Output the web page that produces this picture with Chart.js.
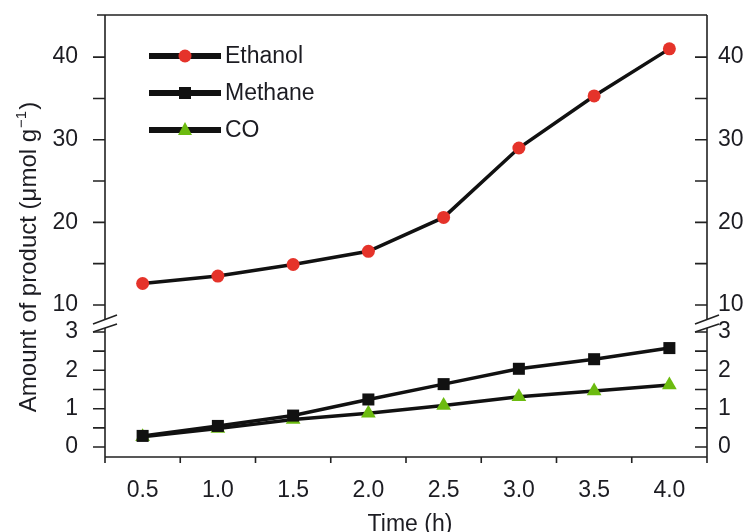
<!DOCTYPE html>
<html>
<head>
<meta charset="utf-8">
<script src="https://cdn.jsdelivr.net/npm/chart.js@4.4.1/dist/chart.umd.min.js"></script>
<style>
html, body { margin: 0; padding: 0; background: #fff; }
#wrap { width: 747px; height: 532px; }
</style>
</head>
<body>
<div id="wrap"><canvas id="chart"></canvas></div>
<script>
var times = [0.5, 1.0, 1.5, 2.0, 2.5, 3.0, 3.5, 4.0];
var ethanol = [12.6, 13.5, 14.9, 16.5, 20.6, 29.0, 35.3, 41.0];
var methane = [0.29, 0.55, 0.82, 1.24, 1.64, 2.04, 2.29, 2.58];
var co = [0.27, 0.48, 0.72, 0.88, 1.08, 1.31, 1.46, 1.62];
var seriesNames = ["Ethanol", "Methane", "CO"];

var xLabelTicks = [0.5, 1.0, 1.5, 2.0, 2.5, 3.0, 3.5, 4.0];
var xMarkTicks = [0.25, 0.75, 1.25, 1.75, 2.25, 2.75, 3.25, 3.75, 4.25];
var upperTicks = [10, 15, 20, 25, 30, 35, 40];
var upperLabels = [10, 20, 30, 40];
var lowerTicks = [0, 0.5, 1, 1.5, 2, 2.5, 3];
var lowerLabels = [0, 1, 2, 3];

var FONT = "'Liberation Sans', Arial, sans-serif";
var TEXT = "#1c1c22";
var INK = "#222";

function pairs(ys) {
	var out = [];
	for (var i = 0; i < times.length; i++) out.push({ x: times[i], y: ys[i] });
	return out;
}

function setTicks(list) {
	return function(scale) {
		scale.ticks = list.map(function(v) { return { value: v }; });
	};
}

function labelIf(list, digits) {
	return function(v) {
		return list.indexOf(v) >= 0 ? v.toFixed(digits) : "";
	};
}

function yScale(pos, stack, weight, min, max, ticks, labels, width, pad) {
	return {
		type: 'linear', position: pos, stack: stack, stackWeight: weight,
		min: min, max: max,
		afterBuildTicks: setTicks(ticks),
		afterFit: function(s) {
			s.width = width;
			s.paddingTop = 0;
			s.paddingBottom = 0;
		},
		grid: { display: false, drawTicks: false },
		border: { display: false },
		ticks: {
			autoSkip: false, padding: pad, color: TEXT,
			font: { family: FONT, size: 23 },
			callback: labelIf(labels, 0)
		}
	};
}

function marker(ctx, style, color, x, y) {
	ctx.fillStyle = color;
	ctx.beginPath();
	if (style === 'circle') {
		ctx.arc(x, y, 6.5, 0, Math.PI * 2);
	} else if (style === 'rect') {
		ctx.rect(x - 6, y - 6, 12, 12);
	} else {
		ctx.moveTo(x, y - 8);
		ctx.lineTo(x + 7, y + 5);
		ctx.lineTo(x - 7, y + 5);
		ctx.closePath();
	}
	ctx.fill();
}

var framePlugin = {
	id: 'frame',
	afterDraw: function(chart) {
		var ctx = chart.ctx, a = chart.chartArea, s = chart.scales;
		ctx.save();
		ctx.strokeStyle = INK;
		ctx.lineWidth = 1.6;
		ctx.beginPath();
		ctx.moveTo(a.left - 8, a.top); ctx.lineTo(a.right, a.top);
		ctx.moveTo(a.left, a.top); ctx.lineTo(a.left, a.bottom);
		ctx.moveTo(a.right, a.top); ctx.lineTo(a.right, a.bottom);
		ctx.moveTo(a.left, a.bottom); ctx.lineTo(a.right, a.bottom);
		// y tick marks: outward on left, inward on right
		['yTop', 'yBot'].forEach(function(id) {
			s[id].ticks.forEach(function(t) {
				var p = s[id].getPixelForValue(t.value);
				ctx.moveTo(a.left - 12, p); ctx.lineTo(a.left, p);
				ctx.moveTo(a.right - 12, p); ctx.lineTo(a.right, p);
			});
		});
		xMarkTicks.forEach(function(v) {
			var p = s.x.getPixelForValue(v);
			ctx.moveTo(p, a.bottom); ctx.lineTo(p, a.bottom + 6);
		});
		ctx.stroke();

		// axis break marks
		var yb = s.yTop.bottom;
		[a.left, a.right].forEach(function(ax) {
			ctx.fillStyle = '#fff';
			ctx.beginPath();
			ctx.moveTo(ax - 12, yb + 2); ctx.lineTo(ax + 12, yb - 7);
			ctx.lineTo(ax + 12, yb + 2); ctx.lineTo(ax - 12, yb + 10);
			ctx.closePath();
			ctx.fill();
			ctx.beginPath();
			ctx.moveTo(ax - 12, yb + 2); ctx.lineTo(ax + 12, yb - 7);
			ctx.moveTo(ax - 12, yb + 10); ctx.lineTo(ax + 12, yb + 2);
			ctx.stroke();
		});

		// legend
		ctx.font = "23px " + FONT;
		ctx.textBaseline = 'middle';
		ctx.textAlign = 'left';
		chart.data.datasets.forEach(function(d, i) {
			var y = a.top + 41 + i * 37;
			ctx.strokeStyle = '#111';
			ctx.lineWidth = 6;
			ctx.beginPath();
			ctx.moveTo(149, y); ctx.lineTo(221, y);
			ctx.stroke();
			marker(ctx, d.pointStyle, d.pointBackgroundColor, 185, y);
			ctx.fillStyle = TEXT;
			ctx.fillText(d.label, 225, y + 1);
		});

		// axis titles
		ctx.fillStyle = TEXT;
		ctx.textAlign = 'center';
		ctx.textBaseline = 'alphabetic';
		ctx.fillText("Time (h)", (a.left + a.right) / 2 + 4, 531);

		ctx.translate(36, 258);
		ctx.rotate(-Math.PI / 2);
		var main = "Amount of product (\u03bcmol g";
		var sup = "\u22121";
		var tail = ")";
		ctx.font = "24px " + FONT;
		var w1 = ctx.measureText(main).width;
		var w3 = ctx.measureText(tail).width;
		ctx.font = "15px " + FONT;
		var w2 = ctx.measureText(sup).width;
		var x0 = -(w1 + w2 + w3) / 2;
		ctx.textAlign = 'left';
		ctx.font = "24px " + FONT;
		ctx.fillText(main, x0, 0);
		ctx.font = "15px " + FONT;
		ctx.fillText(sup, x0 + w1 + 1, -10);
		ctx.font = "24px " + FONT;
		ctx.fillText(tail, x0 + w1 + w2 + 2, 0);
		ctx.restore();
	}
};

new Chart(document.getElementById('chart'), {
	type: 'line',
	data: {
		datasets: [{
			label: seriesNames[0], data: pairs(ethanol), yAxisID: 'yTop',
			borderColor: '#111', borderWidth: 3.5,
			pointStyle: 'circle', pointRadius: 6.5, pointBorderWidth: 0,
			pointBackgroundColor: '#e5332a', pointBorderColor: '#e5332a'
		}, {
			label: seriesNames[1], data: pairs(methane), yAxisID: 'yBot',
			borderColor: '#111', borderWidth: 3.5,
			pointStyle: 'rect', pointRadius: 8.5, pointBorderWidth: 0,
			pointBackgroundColor: '#111', pointBorderColor: '#111'
		}, {
			label: seriesNames[2], data: pairs(co), yAxisID: 'yBot',
			borderColor: '#111', borderWidth: 3.5,
			pointStyle: 'triangle', pointRadius: 8.5, pointBorderWidth: 0,
			pointBackgroundColor: '#6cbb10', pointBorderColor: '#6cbb10'
		}]
	},
	options: {
		responsive: true,
		maintainAspectRatio: false,
		animation: false,
		layout: { padding: { top: 15, left: 0, right: 0, bottom: 0 } },
		plugins: { legend: { display: false }, tooltip: { enabled: false } },
		elements: { line: { tension: 0 } },
		scales: {
			x: {
				type: 'linear', position: 'bottom', min: 0.25, max: 4.25,
				afterBuildTicks: setTicks(xLabelTicks),
				afterFit: function(s) {
					s.height = 75;
					s.paddingLeft = 0;
					s.paddingRight = 0;
				},
				grid: { display: false, drawTicks: false },
				border: { display: false },
				ticks: {
					autoSkip: false, padding: 20, color: TEXT, maxRotation: 0,
					font: { family: FONT, size: 23 },
					callback: function(v) { return v.toFixed(1); }
				}
			},
			yBot: yScale('left', 'L', 135, -0.26, 3.26, lowerTicks, lowerLabels, 105, 27),
			yTop: yScale('left', 'L', 307, 7.94, 45.1, upperTicks, upperLabels, 105, 27),
			yTopR: yScale('right', 'R', 307, 7.94, 45.1, upperTicks, upperLabels, 40, 11),
			yBotR: yScale('right', 'R', 135, -0.26, 3.26, lowerTicks, lowerLabels, 40, 11)
		}
	},
	plugins: [framePlugin]
});
</script>
</body>
</html>
